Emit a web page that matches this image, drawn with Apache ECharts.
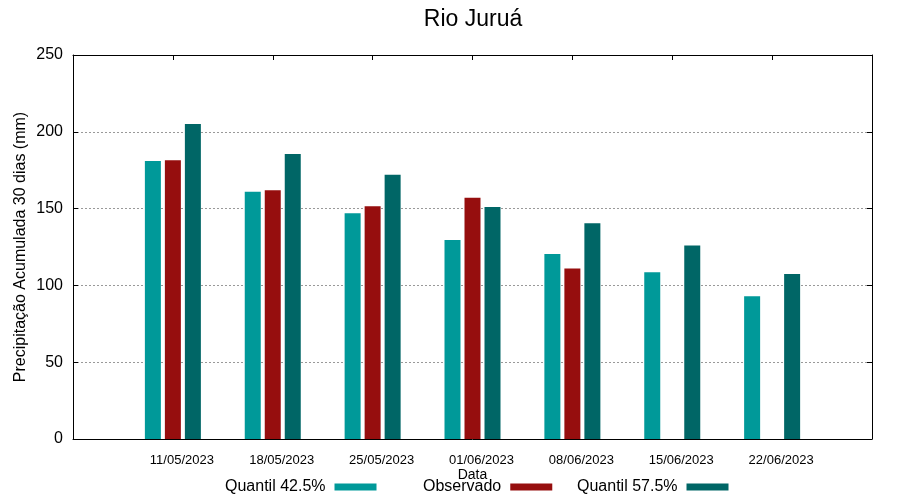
<!DOCTYPE html>
<html>
<head>
<meta charset="utf-8">
<script src="https://cdn.jsdelivr.net/npm/echarts@6/dist/echarts.min.js"></script>
<style>html,body{margin:0;padding:0;background:#fff}#c{width:900px;height:500px}</style>
</head>
<body>
<div id="c"></div>
<script>
const dates = ['11/05/2023','18/05/2023','25/05/2023','01/06/2023','08/06/2023','15/06/2023','22/06/2023'];
const quantil425 = [181, 161, 147, 129.5, 120.5, 108.5, 93];
const observado = [181.5, 162, 151.5, 157, 111, null, null];
const quantil575 = [205, 185.5, 172, 151, 140.5, 126, 107.5];
const yTicks = [0, 50, 100, 150, 200, 250];

const FONT = 'Liberation Sans, Arial, sans-serif';
const cats = [''].concat(dates, ['']);
const pad = arr => [null].concat(arr, [null]);

const chart = echarts.init(document.getElementById('c'), null, {renderer: 'canvas'});
const legendBase = {
  orient: 'horizontal', align: 'right', top: 474, itemWidth: 42, itemHeight: 7,
  icon: 'rect', selectedMode: false,
  textStyle: {fontFamily: FONT, fontSize: 16, color: '#000', padding: [0, 4, 0, 0]}
};
chart.setOption({
  animation: false,
  backgroundColor: '#fff',
  title: {
    text: 'Rio Juruá', left: 468, top: 3, textAlign: 'center',
    textStyle: {fontFamily: FONT, fontSize: 23, fontWeight: 'normal', color: '#000'}
  },
  legend: [
    Object.assign({}, legendBase, {left: 220, data: ['Quantil 42.5%']}),
    Object.assign({}, legendBase, {left: 418, data: ['Observado']}),
    Object.assign({}, legendBase, {left: 572, data: ['Quantil 57.5%']})
  ],
  grid: {left: 73, right: 28, top: 55, bottom: 61, containLabel: false},
  xAxis: [
    {
      type: 'category', data: cats, boundaryGap: false, position: 'bottom',
      name: 'Data', nameLocation: 'middle', nameGap: 29, nameMoveOverlap: false,
      nameTextStyle: {fontFamily: FONT, fontSize: 14, color: '#000'},
      axisLine: {onZero: false, lineStyle: {color: '#000', width: 1}},
      axisTick: {show: false},
      axisLabel: {fontFamily: FONT, fontSize: 13, color: '#000', margin: 15, interval: 0,
                  padding: [0, 0, 0, 18]},
      splitLine: {show: false}
    },
    {
      type: 'category', data: cats, boundaryGap: false, position: 'top',
      axisLine: {onZero: false, lineStyle: {color: '#000', width: 1}},
      axisTick: {inside: true, length: 5, lineStyle: {color: '#000'}},
      axisLabel: {show: false}, splitLine: {show: false}
    }
  ],
  yAxis: [
    {
      type: 'value', min: yTicks[0], max: yTicks[yTicks.length - 1], interval: 50,
      position: 'left',
      name: 'Precipitação Acumulada 30 dias (mm)', nameLocation: 'middle', nameGap: 44,
      nameMoveOverlap: false,
      nameTextStyle: {fontFamily: FONT, fontSize: 16, color: '#000'},
      axisLine: {show: true, onZero: false, lineStyle: {color: '#000', width: 1}},
      axisTick: {show: true, inside: true, length: 5, lineStyle: {color: '#000'}},
      axisLabel: {fontFamily: FONT, fontSize: 16, color: '#000', margin: 10},
      splitLine: {show: true, showMinLine: false, showMaxLine: false,
                  lineStyle: {color: '#999', type: [2, 2], width: 1}}
    },
    {
      type: 'value', min: yTicks[0], max: yTicks[yTicks.length - 1], interval: 50,
      position: 'right',
      axisLine: {show: true, onZero: false, lineStyle: {color: '#000', width: 1}},
      axisTick: {show: true, inside: true, length: 5, lineStyle: {color: '#000'}},
      axisLabel: {show: false}, splitLine: {show: false}
    }
  ],
  series: [
    {name: 'Quantil 42.5%', type: 'bar', data: pad(quantil425), barWidth: 16, barGap: '25%',
     itemStyle: {color: '#009999'}},
    {name: 'Observado', type: 'bar', data: pad(observado), barWidth: 16, barGap: '25%',
     itemStyle: {color: '#960e0e'}},
    {name: 'Quantil 57.5%', type: 'bar', data: pad(quantil575), barWidth: 16, barGap: '25%',
     itemStyle: {color: '#006666'}}
  ]
});
</script>
</body>
</html>
